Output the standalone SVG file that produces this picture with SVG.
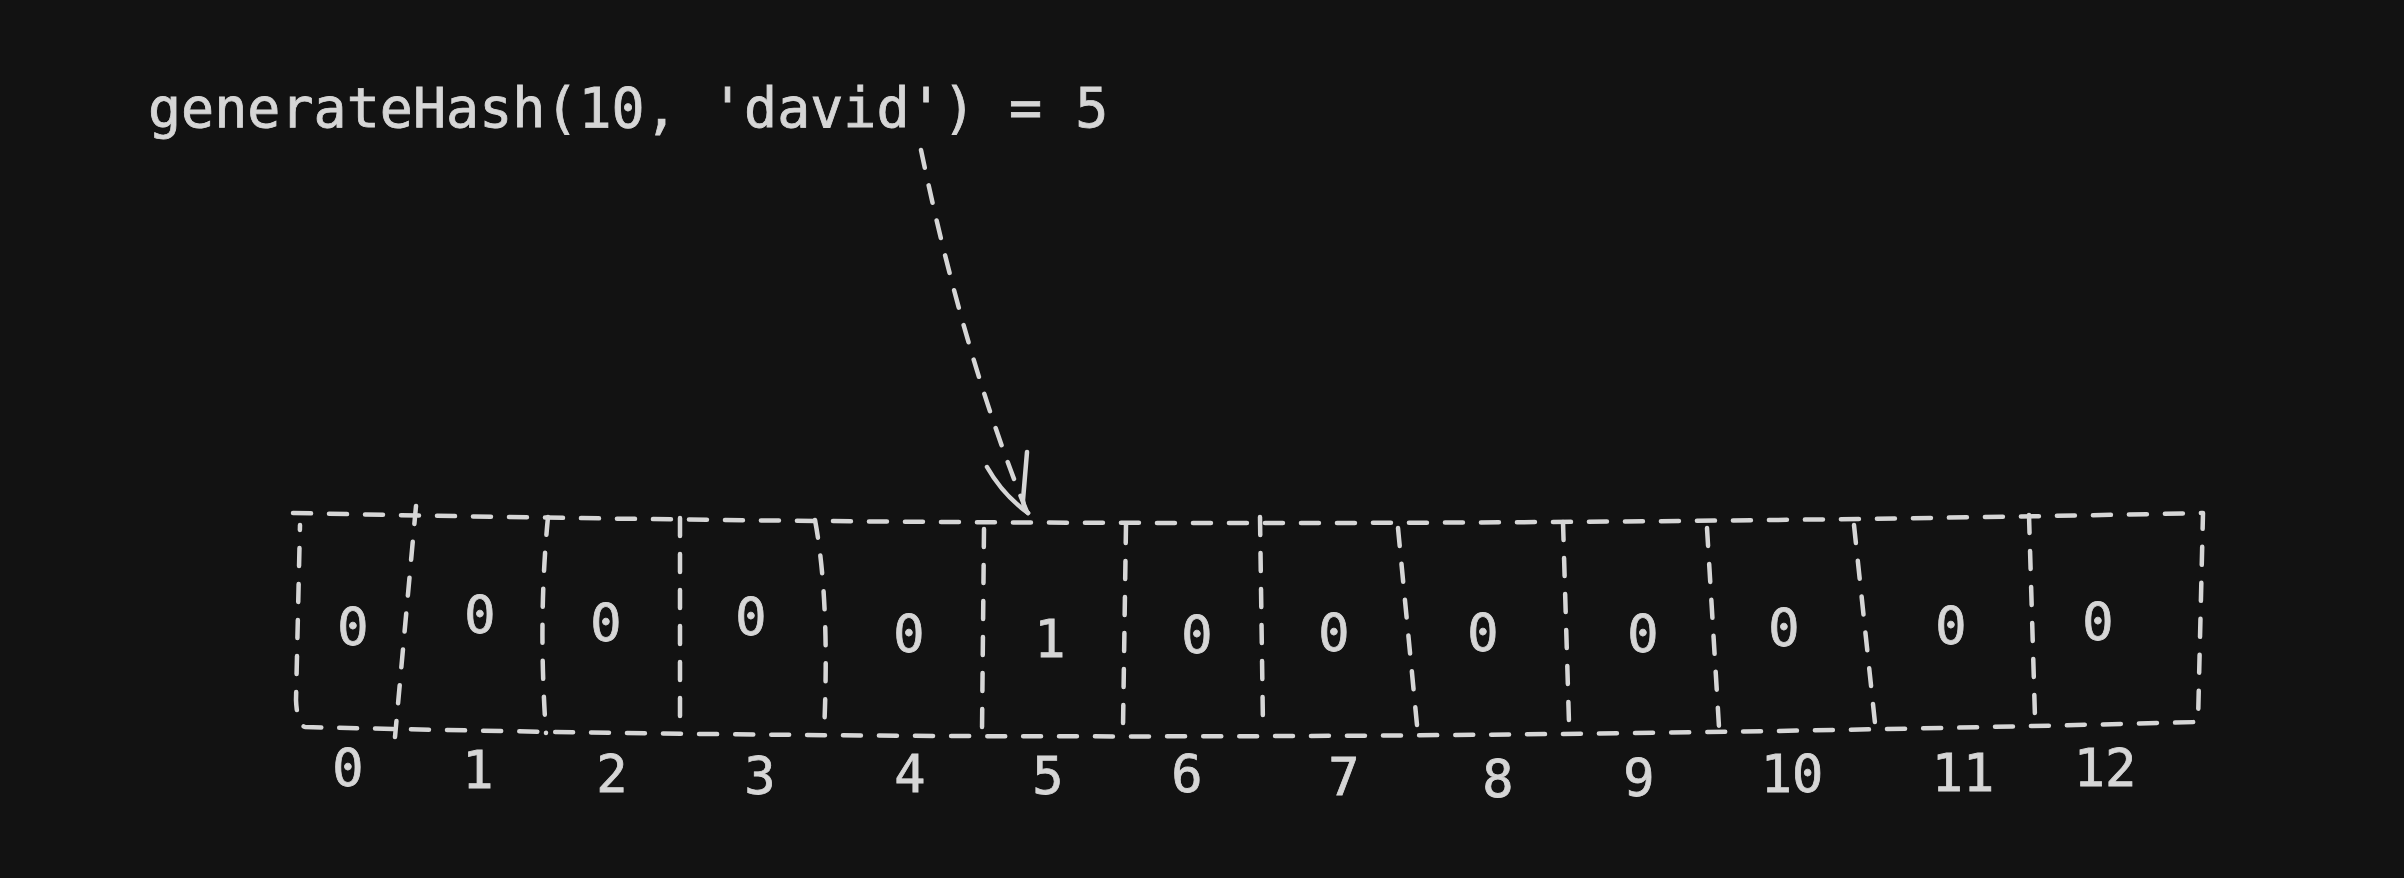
<svg xmlns="http://www.w3.org/2000/svg" width="2404" height="878" viewBox="0 0 2404 878">
<style>
.bg{fill:#121212}
.d{fill:none;stroke:#d6d6d6;stroke-width:4.5;stroke-dasharray:18 18;stroke-linecap:round;stroke-linejoin:round}
.s{fill:none;stroke:#d6d6d6;stroke-width:4.5;stroke-linecap:round;stroke-linejoin:round}
.t{font-family:"DejaVu Sans Mono","Liberation Mono",monospace;fill:#d6d6d6;stroke:#d6d6d6;stroke-width:0.8}
.v{font-size:52px;text-anchor:middle}
.title{font-size:55px}
</style>
<rect class="bg" x="0" y="0" width="2404" height="878"/>
<g id="title"><text class="t title" x="148" y="127">generateHash(10, 'david') = 5</text></g>
<g id="array">
<path class="d" d="M293 513 Q1250 533 2203 513 L2198 722 Q1200 748 305 727 Q297 724 296 700 L300 525"/>
<path class="d" d="M416 506 L395 737"/>
<path class="d" d="M548 517 Q538 620 546 733"/>
<path class="d" d="M680 518 L680 733"/>
<path class="d" d="M815 520 Q830 600 824 733"/>
<path class="d" d="M984 529 L982 732"/>
<path class="d" d="M1126 525 L1123 727"/>
<path class="d" d="M1260 517 L1263 727"/>
<path class="d" d="M1398 528 L1417 725"/>
<path class="d" d="M1563 522 L1569 723"/>
<path class="d" d="M1707 528 L1719 727"/>
<path class="d" d="M1854 525 L1875 723"/>
<path class="d" d="M2029 515 L2035 718"/>
</g>
<g id="cell-0"><text class="t v" x="353" y="645">0</text><text class="t v" x="348" y="786">0</text></g>
<g id="cell-1"><text class="t v" x="480" y="633">0</text><text class="t v" x="478" y="788">1</text></g>
<g id="cell-2"><text class="t v" x="606" y="641">0</text><text class="t v" x="612" y="792">2</text></g>
<g id="cell-3"><text class="t v" x="751" y="635">0</text><text class="t v" x="760" y="794">3</text></g>
<g id="cell-4"><text class="t v" x="909" y="652">0</text><text class="t v" x="910" y="792">4</text></g>
<g id="cell-5"><text class="t v" x="1050" y="657">1</text><text class="t v" x="1048" y="794">5</text></g>
<g id="cell-6"><text class="t v" x="1197" y="653">0</text><text class="t v" x="1187" y="792">6</text></g>
<g id="cell-7"><text class="t v" x="1334" y="651">0</text><text class="t v" x="1344" y="795">7</text></g>
<g id="cell-8"><text class="t v" x="1483" y="651">0</text><text class="t v" x="1498" y="797">8</text></g>
<g id="cell-9"><text class="t v" x="1643" y="652">0</text><text class="t v" x="1639" y="796">9</text></g>
<g id="cell-10"><text class="t v" x="1784" y="646">0</text><text class="t v" x="1792" y="792">10</text></g>
<g id="cell-11"><text class="t v" x="1951" y="644">0</text><text class="t v" x="1963" y="791">11</text></g>
<g id="cell-12"><text class="t v" x="2098" y="640">0</text><text class="t v" x="2105" y="786">12</text></g>
<g id="connectors">
<path class="d" d="M921 150 Q965 360 1027 512"/>
<path class="s" d="M987 467 Q1003 495 1028 513"/>
<path class="s" d="M1027 452 L1023 500 Q1024 510 1028 513"/>
</g>
</svg>
